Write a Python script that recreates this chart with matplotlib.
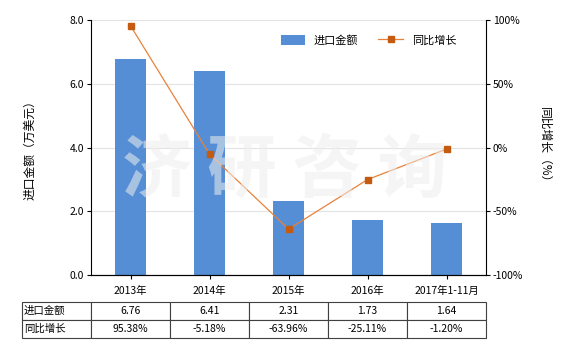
import matplotlib
matplotlib.use('Agg')
from matplotlib import pyplot as plt
from matplotlib.ticker import FuncFormatter

plt.rcParams['font.family'] = ['Noto Sans CJK SC', 'DejaVu Sans']
plt.rcParams['axes.unicode_minus'] = False

years = ['2013年', '2014年', '2015年', '2016年', '2017年1-11月']
amount = [6.76, 6.41, 2.31, 1.73, 1.64]
growth = [95.38, -5.18, -63.96, -25.11, -1.20]
amount_txt = ['6.76', '6.41', '2.31', '1.73', '1.64']
growth_txt = ['95.38%', '-5.18%', '-63.96%', '-25.11%', '-1.20%']

bar_color = '#558ED5'
line_color = '#E8823A'
marker_color = '#C55A11'

fig = plt.figure(figsize=(5.8, 3.5), dpi=100)
ax = fig.add_axes([0.157, 0.214, 0.681, 0.729])
x = list(range(len(years)))

ax.bar(x, amount, width=0.4, color=bar_color, zorder=2, label='进口金额')
ax.set_ylim(0, 8)
ax.set_xlim(-0.5, 4.5)
ax.set_yticks([0, 2, 4, 6, 8])
ax.yaxis.set_major_formatter(FuncFormatter(lambda v, p: '%.1f' % v))
ax.set_xticks(x)
ax.set_xticklabels(years)
ax.grid(axis='y', color='#E3E3E3', linewidth=0.8, zorder=0)
ax.set_ylabel('进口金额（万美元）', fontsize=8.5, labelpad=24)
ax.tick_params(axis='both', labelsize=7.5, length=3, width=0.8, pad=2)
ax.tick_params(axis='x', pad=5)
ax.spines['top'].set_visible(False)
ax.spines['right'].set_visible(False)

ax2 = ax.twinx()
ax2.plot(x, growth, color=line_color, linewidth=0.9, marker='s', markersize=4,
         markerfacecolor=marker_color, markeredgecolor=marker_color, zorder=3, label='同比增长')
ax2.set_ylim(-100, 100)
ax2.set_yticks([-100, -50, 0, 50, 100])
ax2.yaxis.set_major_formatter(FuncFormatter(lambda v, p: '%d%%' % v))
ax2.tick_params(axis='y', labelsize=7.5, length=3, width=0.8, pad=2)
ax2.set_ylabel('同比增长（%）', fontsize=8.5, rotation=270, labelpad=20)
ax2.spines['top'].set_visible(False)
ax2.spines['left'].set_visible(False)

# watermark
fig.text(0.49, 0.51, '济 研 咨 询', fontsize=50, fontweight='bold', color='#EEEEEE',
         alpha=0.55, ha='center', va='center', zorder=1)

h1, l1 = ax.get_legend_handles_labels()
h2, l2 = ax2.get_legend_handles_labels()
ax2.legend(h1 + h2, l1 + l2, loc='upper right', bbox_to_anchor=(0.95, 0.98), ncol=2,
           frameon=False, fontsize=8, handlelength=2.2, handleheight=1.0, columnspacing=1.8)

cells = [['进口金额'] + amount_txt, ['同比增长'] + growth_txt]
widths = [69 / 395] + [79 / 395] * 5
tb = ax.table(cellText=cells, colWidths=widths, cellLoc='center',
              bbox=[-0.175, -0.247, 1.175, 0.141])
tb.auto_set_font_size(False)
tb.set_fontsize(7.5)
for (r, c), cell in tb.get_celld().items():
    cell.set_edgecolor('#404040')
    cell.set_linewidth(0.8)
    if c == 0:
        cell.set_text_props(ha='left')
        cell.PAD = 0.03

fig.savefig('out.png', dpi=100)
